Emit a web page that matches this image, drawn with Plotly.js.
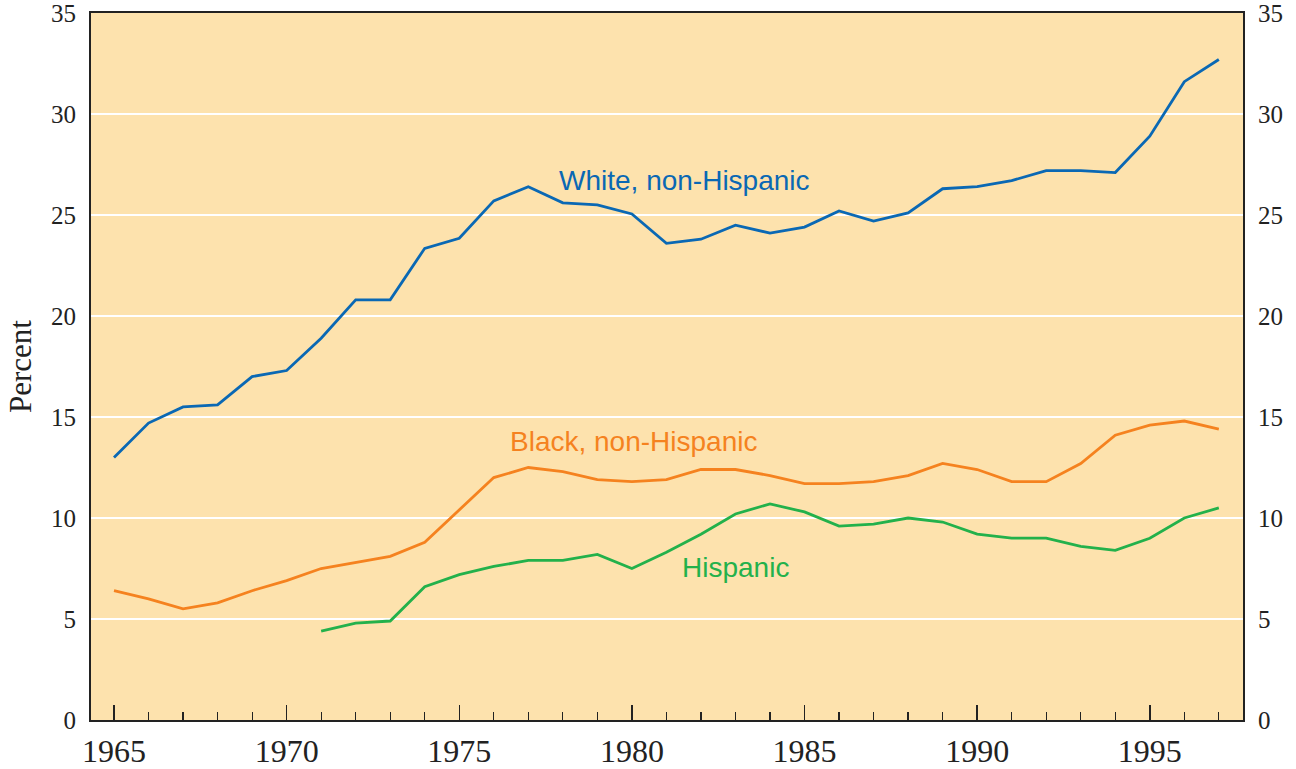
<!DOCTYPE html>
<html>
<head>
<meta charset="utf-8">
<script src="https://cdn.plot.ly/plotly-3.0.1.min.js"></script>
<style>html,body{margin:0;padding:0;background:#fff;}#chart{width:1296px;height:769px;}</style>
</head>
<body>
<div id="chart"></div>
<script>
const years = [1965,1966,1967,1968,1969,1970,1971,1972,1973,1974,1975,1976,1977,1978,1979,1980,1981,1982,1983,1984,1985,1986,1987,1988,1989,1990,1991,1992,1993,1994,1995,1996,1997];
const whiteNonHispanic = [13.0,14.7,15.5,15.6,17.0,17.3,18.9,20.8,20.8,23.35,23.85,25.7,26.4,25.6,25.5,25.05,23.6,23.8,24.5,24.1,24.4,25.2,24.7,25.1,26.3,26.4,26.7,27.2,27.2,27.1,28.9,31.6,32.7];
const blackNonHispanic = [6.4,6.0,5.5,5.8,6.4,6.9,7.5,7.8,8.1,8.8,10.4,12.0,12.5,12.3,11.9,11.8,11.9,12.4,12.4,12.1,11.7,11.7,11.8,12.1,12.7,12.4,11.8,11.8,12.7,14.1,14.6,14.8,14.4];
const hispanicYears = [1971,1972,1973,1974,1975,1976,1977,1978,1979,1980,1981,1982,1983,1984,1985,1986,1987,1988,1989,1990,1991,1992,1993,1994,1995,1996,1997];
const hispanic = [4.4,4.8,4.9,6.6,7.2,7.6,7.9,7.9,8.2,7.5,8.3,9.2,10.2,10.7,10.3,9.6,9.7,10.0,9.8,9.2,9.0,9.0,8.6,8.4,9.0,10.0,10.5];
const yTicks = [0,5,10,15,20,25,30,35];
const xTicks = [1965,1970,1975,1980,1985,1990,1995];

const BLUE = '#0a68b4', ORANGE = '#f5821f', GREEN = '#23b14b';

const traces = [
  {x: years, y: whiteNonHispanic, type: 'scatter', mode: 'lines', line: {color: BLUE, width: 2.8}, hoverinfo: 'skip'},
  {x: years, y: blackNonHispanic, type: 'scatter', mode: 'lines', line: {color: ORANGE, width: 2.8}, hoverinfo: 'skip'},
  {x: hispanicYears, y: hispanic, type: 'scatter', mode: 'lines', line: {color: GREEN, width: 2.8}, hoverinfo: 'skip'},
  {x: [years[0]], y: [0], type: 'scatter', mode: 'markers', marker: {opacity: 0}, yaxis: 'y2', hoverinfo: 'skip'}
];

const tickFont = {family: 'Liberation Serif, Times New Roman, serif', size: 25, color: '#222'};

const layout = {
  width: 1296, height: 769,
  margin: {l: 91, r: 53, t: 13, b: 49},
  paper_bgcolor: '#ffffff',
  plot_bgcolor: '#fde2ad',
  showlegend: false,
  xaxis: {
    range: [1964.334, 1997.7],
    tickvals: xTicks,
    ticktext: xTicks.map(String),
    ticks: 'inside', ticklen: 15, tickwidth: 1.5, tickcolor: '#222',
    minor: {ticks: 'inside', dtick: 1, tick0: 1965, ticklen: 8, tickwidth: 1.2, tickcolor: '#222', showgrid: false},
    showgrid: false, zeroline: false,
    showline: true, linecolor: '#222', linewidth: 2, mirror: true,
    tickfont: {family: 'Liberation Serif, Times New Roman, serif', size: 32, color: '#222'},
    ticklabelstandoff: 2,
    ticklabeloverflow: 'allow'
  },
  yaxis: {
    range: [0, 35],
    tickvals: yTicks,
    ticktext: yTicks.map(String),
    ticks: '', showgrid: true, gridcolor: '#ffffff', gridwidth: 1.2,
    zeroline: false,
    showline: true, linecolor: '#222', linewidth: 2, mirror: true,
    tickfont: tickFont,
    ticklabelstandoff: 8,
    ticklabeloverflow: 'allow',
    title: {text: 'Percent', font: {family: 'Liberation Serif, Times New Roman, serif', size: 31, color: '#222'}, standoff: 10}
  },
  yaxis2: {
    range: [0, 35],
    overlaying: 'y', side: 'right',
    tickvals: yTicks,
    ticktext: yTicks.map(String),
    ticks: '', showgrid: false, zeroline: false, showline: false,
    tickfont: tickFont,
    ticklabelstandoff: 14,
    ticklabeloverflow: 'allow'
  },
  annotations: [
    {x: 1977.83, y: 26.72, xref: 'x', yref: 'y', text: 'White, non-Hispanic', showarrow: false, xanchor: 'left', yanchor: 'middle', font: {family: 'Liberation Sans, Arial, sans-serif', size: 28, color: BLUE}},
    {x: 1976.41, y: 13.78, xref: 'x', yref: 'y', text: 'Black, non-Hispanic', showarrow: false, xanchor: 'left', yanchor: 'middle', font: {family: 'Liberation Sans, Arial, sans-serif', size: 28, color: ORANGE}},
    {x: 1981.39, y: 7.54, xref: 'x', yref: 'y', text: 'Hispanic', showarrow: false, xanchor: 'left', yanchor: 'middle', font: {family: 'Liberation Sans, Arial, sans-serif', size: 28, color: GREEN}}
  ]
};

Plotly.newPlot('chart', traces, layout, {displayModeBar: false, staticPlot: true});
</script>
</body>
</html>
